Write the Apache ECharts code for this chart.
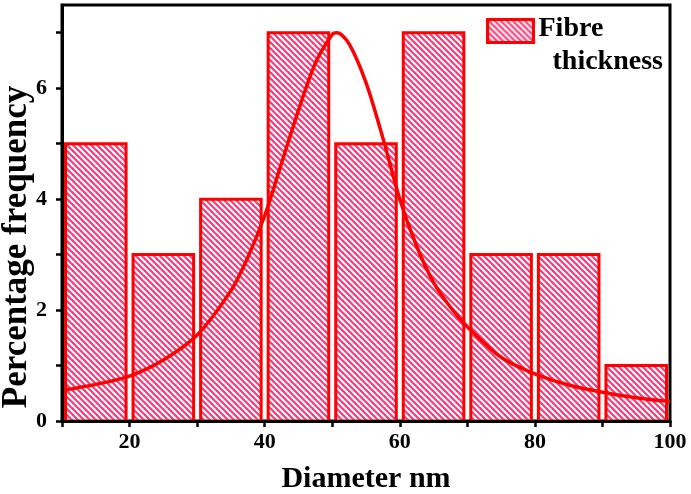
<!DOCTYPE html>
<html>
<head>
<meta charset="utf-8">
<script src="https://cdn.jsdelivr.net/npm/echarts@6/dist/echarts.min.js"></script>
<style>html,body{margin:0;padding:0;background:#fff}#c{width:691px;height:494px}</style>
</head>
<body>
<div id="c"></div>
<script>
// Histogram bins (nm) and percentage frequency
const binStarts = [10, 20, 30, 40, 50, 60, 70, 80, 90];
const binEnds   = [20, 30, 40, 50, 60, 70, 80, 90, 100];
const binValues = [5, 3, 4, 7, 5, 7, 3, 3, 1];
// Fitted curve
const curveX = [10, 15, 20, 25, 30, 35, 37.5, 40, 42.5, 45, 47.5, 50, 50.7, 52.5, 55, 57.5, 60, 62.5, 65, 67.5, 70, 75, 80, 85, 90, 95, 100];
const curveY = [0.55, 0.66, 0.81, 1.1, 1.55, 2.35, 2.95, 3.7, 4.65, 5.6, 6.45, 6.97, 7.0, 6.8, 6.1, 5.1, 4.0, 3.15, 2.5, 2.05, 1.7, 1.15, 0.85, 0.65, 0.52, 0.42, 0.35];
const xTickLabels = [20, 40, 60, 80, 100];
const xTicks = [10, 20, 30, 40, 50, 60, 70, 80, 90, 100];
const yTickLabels = [0, 2, 4, 6];
const yTicks = [0, 1, 2, 3, 4, 5, 6, 7];
const seriesName = 'Fibre thickness';

function makeHatch() {
  const c = document.createElement('canvas');
  c.width = 6; c.height = 6;
  const g = c.getContext('2d');
  g.fillStyle = '#ffffff';
  g.fillRect(0, 0, 6, 6);
  g.strokeStyle = '#f63c78';
  g.lineWidth = 2.2;
  for (let k = -1; k <= 1; k++) {
    g.beginPath();
    g.moveTo(k * 6 - 2, -2);
    g.lineTo(k * 6 + 8, 8);
    g.stroke();
  }
  return c;
}
const hatch = { image: makeHatch(), repeat: 'repeat' };

const barData = binStarts.map((s, i) => [s, binEnds[i], binValues[i]]);
const curveData = curveX.map((x, i) => [x, curveY[i]]);

const font = '"Liberation Serif", "Times New Roman", serif';
const chart = echarts.init(document.getElementById('c'), null, { renderer: 'canvas' });
chart.setOption({
  animation: false,
  grid: { left: 62, right: 21, top: 5, bottom: 73, containLabel: false, outerBoundsMode: 'none', show: true, borderColor: '#000', borderWidth: 3, backgroundColor: 'transparent' },
  legend: {
    left: 481, top: 10,
    itemWidth: 46, itemHeight: 23, itemGap: 4,
    data: [{ name: seriesName, icon: 'rect', itemStyle: { color: hatch, borderColor: '#ff0000', borderWidth: 3 } }],
    formatter: () => '{a|Fibre}\n{b|thickness}',
    textStyle: {
      padding: [29, 0, 0, 0],
      rich: {
        a: { fontFamily: font, fontWeight: 'bold', fontSize: 28, color: '#000', lineHeight: 33 },
        b: { fontFamily: font, fontWeight: 'bold', fontSize: 28, color: '#000', lineHeight: 33, padding: [0, 0, 0, 14] }
      }
    }
  },
  xAxis: {
    type: 'value', min: 10, max: 100, interval: 10, z: 5,
    name: 'Diameter nm', nameLocation: 'middle', nameGap: 43, nameMoveOverlap: false,
    nameTextStyle: { fontFamily: font, fontWeight: 'bold', fontSize: 30, color: '#000' },
    axisLine: { show: true, lineStyle: { color: '#000', width: 3 } },
    axisTick: { show: true, inside: false, length: 6, lineStyle: { color: '#000', width: 2.5 }, customValues: xTicks },
    axisLabel: { customValues: xTickLabels, margin: 10, fontFamily: font, fontWeight: 'bold', fontSize: 22, color: '#000' },
    splitLine: { show: false }
  },
  yAxis: {
    type: 'value', min: 0, max: 7.5, interval: 1, z: 5,
    name: 'Percentage frequency', nameLocation: 'middle', nameGap: 28, nameMoveOverlap: false,
    nameTextStyle: { fontFamily: font, fontWeight: 'bold', fontSize: 35, color: '#000', padding: [0, 68, 0, 0] },
    axisLine: { show: true, lineStyle: { color: '#000', width: 3 } },
    axisTick: { show: true, inside: false, length: 6, lineStyle: { color: '#000', width: 2.5 }, customValues: yTicks },
    axisLabel: { customValues: yTickLabels, margin: 15, fontFamily: font, fontWeight: 'bold', fontSize: 22, color: '#000' },
    splitLine: { show: false }
  },
  series: [
    {
      name: seriesName,
      type: 'custom',
      z: 2,
      itemStyle: { color: hatch, borderColor: '#ff0000', borderWidth: 3 },
      encode: { x: [0, 1], y: 2 },
      data: barData,
      renderItem: function (params, api) {
        const x0 = api.value(0), x1 = api.value(1), v = api.value(2);
        const p0 = api.coord([x0, v]);
        const p1 = api.coord([x1, 0]);
        return {
          type: 'rect',
          shape: { x: p0[0] + 3.5, y: p0[1], width: p1[0] - p0[0] - 7, height: p1[1] - p0[1] },
          style: { fill: hatch, stroke: '#ff0000', lineWidth: 3 }
        };
      }
    },
    {
      name: 'fit',
      type: 'line',
      z: 3,
      smooth: 0.3,
      showSymbol: false,
      data: curveData,
      lineStyle: { color: '#ff0000', width: 3.5 },
      itemStyle: { color: '#ff0000' }
    }
  ]
});
</script>
</body>
</html>
